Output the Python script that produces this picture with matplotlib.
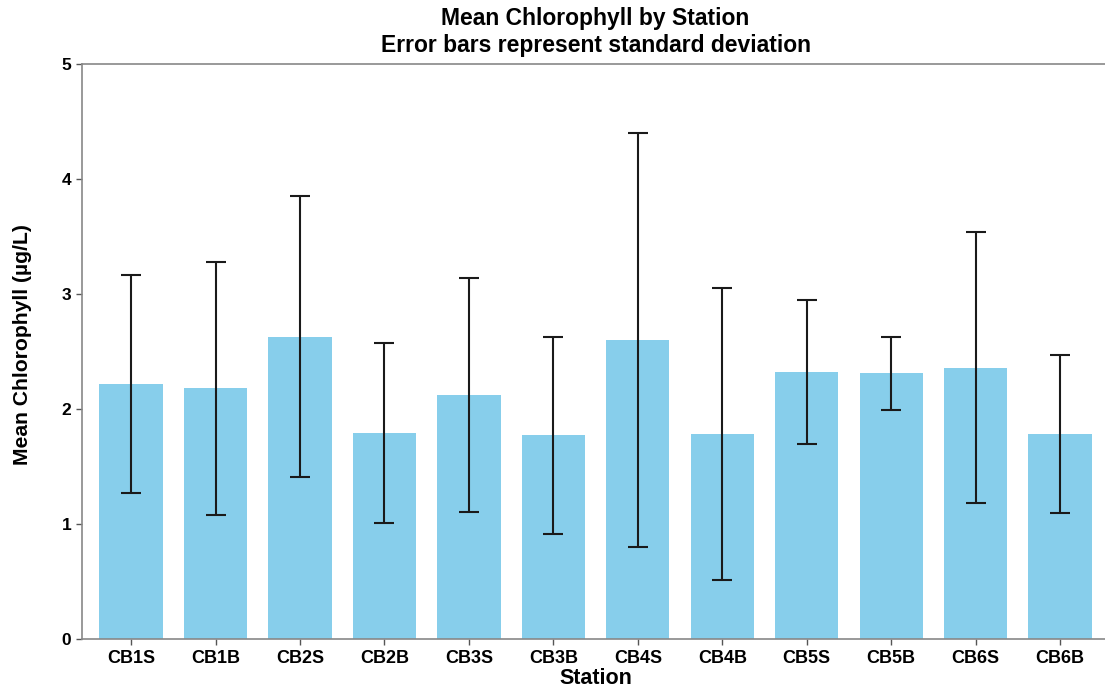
import numpy as np
import matplotlib.pyplot as plt

plt.rcParams['font.family'] = ['Liberation Sans', 'DejaVu Sans']

stations = ['CB1S', 'CB1B', 'CB2S', 'CB2B', 'CB3S', 'CB3B',
            'CB4S', 'CB4B', 'CB5S', 'CB5B', 'CB6S', 'CB6B']
mean_chl = [2.22, 2.18, 2.63, 1.79, 2.12, 1.77, 2.60, 1.78, 2.32, 2.31, 2.36, 1.78]
std_chl = [0.95, 1.10, 1.22, 0.78, 1.02, 0.86, 1.80, 1.27, 0.63, 0.32, 1.18, 0.69]

fig = plt.figure(figsize=(11.05, 6.9), dpi=100)
ax = fig.add_axes([0.074, 0.0746, 0.93, 0.832])

x = np.arange(len(stations))
ax.bar(x, mean_chl, width=0.75, color='skyblue',
       yerr=std_chl, capsize=7,
       error_kw=dict(ecolor='#1a1a1a', elinewidth=1.5, capthick=1.5))

ax.set_xlim(-0.584, 11.584)
ax.set_ylim(0, 5)
ax.set_xticks(x)
ax.set_xticklabels(stations, fontsize=13, fontweight='bold')
ax.set_yticks(range(6))
ax.set_yticklabels([str(i) for i in range(6)], fontsize=12.5, fontweight='bold')
ax.tick_params(axis='both', color='#555555', length=4, width=1)
ax.tick_params(axis='x', pad=4)

for s in ['left', 'bottom', 'top']:
    ax.spines[s].set_color('#888888')
    ax.spines[s].set_linewidth(1.2)
ax.spines['right'].set_visible(False)

ax.set_xlabel('Station', fontsize=15.5, fontweight='bold', labelpad=1)
ax.set_ylabel('Mean Chlorophyll (µg/L)', fontsize=15.2, fontweight='bold')
ax.yaxis.set_label_coords(-0.048, 0.512)
ax.set_title('Mean Chlorophyll by Station\nError bars represent standard deviation',
             fontsize=16.5, fontweight='bold', pad=9)

fig.savefig('out.png', dpi=100)
